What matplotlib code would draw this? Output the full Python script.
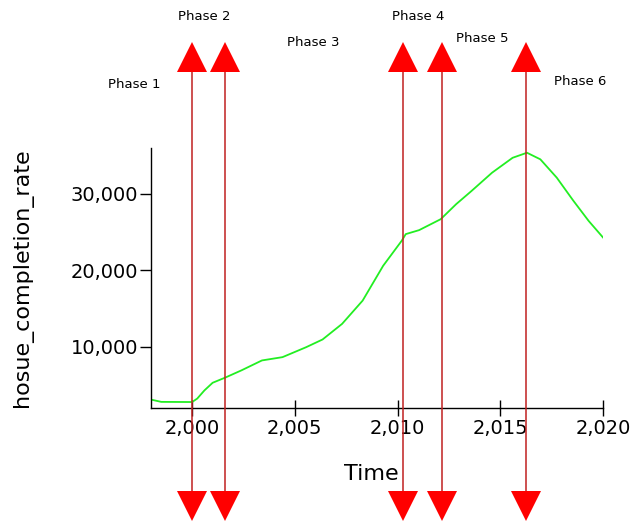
import matplotlib
matplotlib.use('Agg')
import matplotlib.pyplot as plt
from matplotlib.ticker import FuncFormatter
from matplotlib.transforms import blended_transform_factory

# data
years = [1998.0, 1998.5, 2000.0, 2000.25, 2000.6, 2001.0, 2001.6, 2002.4, 2003.4, 2004.4,
         2005.55, 2006.35, 2007.3, 2008.3, 2009.3, 2010.2, 2010.4, 2011.05, 2012.1,
         2012.85, 2013.6, 2014.6, 2015.6, 2016.3, 2016.95, 2017.75, 2018.55,
         2019.3, 2020.0]
completion = [3100, 2800, 2780, 3230, 4300, 5300, 5960, 6920, 8220, 8650,
              9950, 10960, 13000, 16040, 20600, 23860, 24740, 25260, 26690,
              28650, 30380, 32770, 34720, 35380, 34520, 32120, 29130,
              26470, 24300]

phase_years = [2000.0, 2001.6, 2010.25, 2012.15, 2016.25]
phase_labels = ['Phase 1', 'Phase 2', 'Phase 3', 'Phase 4', 'Phase 5', 'Phase 6']
# label centres in pixels (x, y from top)
label_pos = [(134, 85), (204, 17), (313, 42), (418, 17), (482, 38), (580, 82)]

W, H = 632, 523
fig = plt.figure(figsize=(W / 100, H / 100), dpi=100)
ax = fig.add_axes([151 / W, 1 - 408 / H, 452 / W, 260 / H])

ax.plot(years, completion, color='#22ee22', lw=1.3)

ax.set_xlim(1998, 2020)
ax.set_ylim(2000, 36000)
ax.set_xticks([2000, 2005, 2010, 2015, 2020])
ax.set_yticks([10000, 20000, 30000])
fmt = FuncFormatter(lambda v, p: '{:,.0f}'.format(v))
ax.xaxis.set_major_formatter(fmt)
ax.yaxis.set_major_formatter(fmt)
ax.tick_params(axis='x', direction='inout', length=12, width=1, labelsize=14, pad=2)
ax.tick_params(axis='y', direction='out', length=8, width=1, labelsize=14, pad=1)

for s in ['top', 'right']:
    ax.spines[s].set_visible(False)
for s in ['left', 'bottom']:
    ax.spines[s].set_linewidth(1)

ax.set_xlabel('Time', fontsize=16)
ax.xaxis.set_label_coords(0.488, -0.215)
ax.set_ylabel('hosue_completion_rate', fontsize=16)
ax.yaxis.set_label_coords(-0.262, 0.5)

# phase markers: vertical lines with arrows outside the axes
trans = blended_transform_factory(ax.transData, fig.transFigure)
for x in phase_years:
    ax.plot([x, x], [1 - 62 / H, 1 - 500 / H], color='#c02020', lw=1.1,
            transform=trans, clip_on=False, zorder=5)
    ax.plot([x], [1 - 57 / H], marker='^', ms=21, color='#ff0000', mew=0,
            transform=trans, clip_on=False, zorder=6)
    ax.plot([x], [1 - 506 / H], marker='v', ms=21, color='#ff0000', mew=0,
            transform=trans, clip_on=False, zorder=6)

for lab, (px, py) in zip(phase_labels, label_pos):
    fig.text(px / W, 1 - py / H, lab, fontsize=9.5, ha='center', va='center')

fig.savefig('out.png', dpi=100)
